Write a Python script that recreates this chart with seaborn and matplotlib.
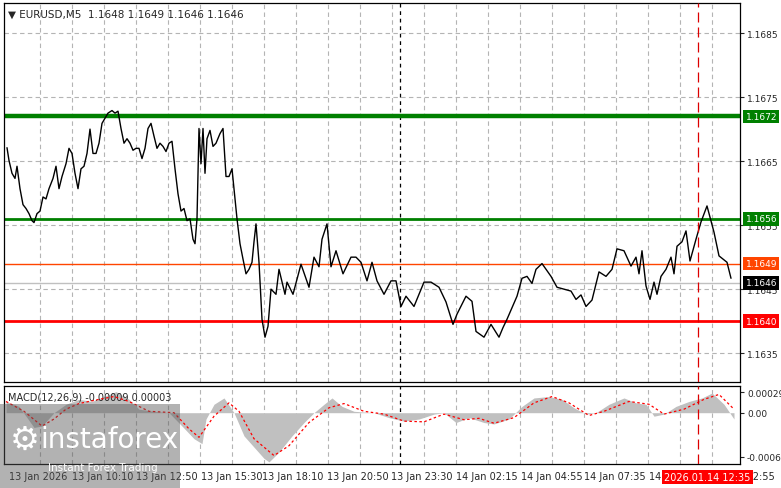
import numpy as np
import pandas as pd
import seaborn as sns
import matplotlib.pyplot as plt
from matplotlib.patches import Rectangle

sns.set_style("white")
plt.rcParams['font.family'] = ['DejaVu Sans']

# price (close), x is the bar number (5 min bars)
bars = [1.5, 2.5, 4, 5.5, 6.5, 8, 9.5, 11, 12.5, 14, 15, 16.5, 18, 19.5, 21, 22.5, 24.5, 26, 27.5, 29,
        31, 32.5, 34, 35.5, 37, 38.5, 40, 41.5, 43, 44.5, 46, 47.5, 49, 50.5, 52, 54, 55.5, 57, 58.5, 60,
        61.5, 63, 64.5, 66, 67.5, 69, 70.5, 72, 73.5, 75, 76.5, 78, 79.5, 81, 82.5, 84, 85.5, 87, 88.5, 90,
        91.5, 93, 94.5, 95.5, 96.5, 97.5, 98.5, 99.5, 100.5, 101.5, 103, 104.5, 106, 108, 109.5, 111, 112.5,
        114, 115, 116.5, 118, 119.5, 121, 122.5, 124, 125, 126, 127.5, 129, 130.5, 132, 133.5, 136, 137.5,
        140.5, 141.5, 144.5, 148.5, 152.5, 155, 157.5, 159, 161.5, 163.5, 166, 169.5, 173.5, 176, 178.5,
        181.5, 184, 186.5, 190, 193.5, 196, 198.5, 201, 205, 210, 213.5, 217.5, 221, 224.5, 226.5, 231, 234,
        236, 240, 243.5, 247.5, 249.5, 251.5, 256.5, 259, 261.5, 264, 266, 269, 273.5, 276.5, 280, 283.5,
        286, 288.5, 291, 294, 297.5, 301, 304, 306.5, 310, 313.5, 316, 317.5, 319, 321, 323, 325, 326.5,
        328.5, 331, 333.5, 335, 336.5, 339, 341, 343, 346, 348.5, 351.5, 355, 357.5, 361.5, 363.5]
close = [1.16671, 1.16651, 1.16631, 1.16623, 1.16642, 1.16607, 1.16582, 1.16576, 1.16568, 1.16557,
         1.16554, 1.16568, 1.16572, 1.16594, 1.16591, 1.16607, 1.16623, 1.16642, 1.16607, 1.16626,
         1.16646, 1.16670, 1.16662, 1.16631, 1.16607, 1.16638, 1.16642, 1.16662, 1.16700, 1.16662,
         1.16662, 1.16678, 1.16709, 1.16717, 1.16725, 1.16729, 1.16725, 1.16728, 1.16701, 1.16678,
         1.16685, 1.16678, 1.16667, 1.16670, 1.16670, 1.16654, 1.16670, 1.16701, 1.16709, 1.16689,
         1.16670, 1.16678, 1.16673, 1.16665, 1.16678, 1.16681, 1.16638, 1.16599, 1.16572, 1.16576,
         1.16557, 1.16560, 1.16528, 1.16521, 1.16560, 1.16701, 1.16646, 1.16701, 1.16631, 1.16685,
         1.16698, 1.16673, 1.16678, 1.16693, 1.16701, 1.16626, 1.16626, 1.16638, 1.16607, 1.16560,
         1.16521, 1.16497, 1.16474, 1.16481, 1.16492, 1.16524, 1.16552, 1.16492, 1.16403, 1.16375,
         1.16392, 1.16450, 1.16442, 1.16481, 1.16442, 1.16461, 1.16442, 1.16489, 1.16453, 1.16500,
         1.16485, 1.16528, 1.16552, 1.16485, 1.16510, 1.16474, 1.16500, 1.16500, 1.16492, 1.16463,
         1.16492, 1.16463, 1.16442, 1.16463, 1.16463, 1.16423, 1.16439, 1.16423, 1.16461, 1.16461,
         1.16453, 1.16430, 1.16395, 1.16411, 1.16439, 1.16431, 1.16384, 1.16375, 1.16395, 1.16375,
         1.16390, 1.16403, 1.16439, 1.16467, 1.16470, 1.16459, 1.16481, 1.16490, 1.16470, 1.16453,
         1.16450, 1.16447, 1.16434, 1.16441, 1.16423, 1.16433, 1.16477, 1.16470, 1.16481, 1.16513,
         1.16510, 1.16486, 1.16500, 1.16474, 1.16510, 1.16455, 1.16434, 1.16461, 1.16442, 1.16470,
         1.16481, 1.16500, 1.16474, 1.16517, 1.16524, 1.16541, 1.16494, 1.16528, 1.16555, 1.16580,
         1.16539, 1.16502, 1.16492, 1.16467]

# MACD histogram and signal line
hist_bars = [1, 7.5, 11, 15, 19, 25, 31, 37.5, 44, 50, 56, 62.5, 67.5, 75, 82.5, 89, 95, 99, 101, 105,
             110, 115, 120, 125, 130, 132.5, 137.5, 144, 150, 155, 160, 164, 169, 175, 185, 192.5, 200,
             207.5, 215, 220, 226, 232.5, 240, 245, 252.5, 259, 265, 272.5, 279, 285, 291, 296, 302.5,
             310, 316, 321, 325, 330, 336, 342.5, 349, 354, 360, 365]
hist_vals = [0.00016, 0.00009, -0.00005, -0.00021, -0.00019, 0.0, 0.00012, 0.00019, 0.00016, 0.00023,
             0.00030, 0.00019, 0.00005, 0.00002, 0.0, -0.00019, -0.00037, -0.00044, -0.00009, 0.00012,
             0.00021, 0.0, -0.00033, -0.00049, -0.00065, -0.00070, -0.00056, -0.00033, -0.00014, 0.0,
             0.00012, 0.00021, 0.00009, 0.00002, 0.0, -0.00007, -0.00012, -0.00009, -0.00002, 0.0,
             -0.00014, -0.00007, -0.00014, -0.00016, -0.00009, 0.00009, 0.00021, 0.00023, 0.00019,
             0.00007, -0.00002, 0.0, 0.00012, 0.00021, 0.00014, 0.00012, -0.00005, -0.00002, 0.00009,
             0.00016, 0.00021, 0.00028, 0.00012, -0.00009]
sig_bars = [1, 10, 19, 25, 31, 37.5, 47.5, 55, 62.5, 72.5, 85, 92.5, 97.5, 105, 112.5, 117.5, 125, 135,
            142.5, 152.5, 162.5, 170, 180, 190, 200, 210, 220, 230, 237.5, 245, 255, 265, 274, 282.5,
            292.5, 300, 312.5, 322.5, 330, 340, 350, 357.5, 365]
sig_vals = [0.00016, 0.00002, -0.00019, -0.00009, 0.00005, 0.00013, 0.00019, 0.00023, 0.00016, 0.00002,
            0.0, -0.00023, -0.00035, -0.00005, 0.00014, 0.00002, -0.00037, -0.00061, -0.00047, -0.00014,
            0.00007, 0.00013, 0.00002, -0.00002, -0.00012, -0.00013, -0.00002, -0.00010, -0.00008,
            -0.00015, -0.00007, 0.00014, 0.00023, 0.00014, -0.00004, 0.00002, 0.00016, 0.00012, -0.00002,
            0.00005, 0.00019, 0.00026, 0.00005]

price_ticks = [1.1635, 1.1645, 1.1655, 1.1665, 1.1675, 1.1685]
time_bars = [2.5, 34, 66, 98.5, 129, 161.5, 193.5, 226, 258.5, 290, 322.5, 354.5]
time_labels = ["13 Jan 2026", "13 Jan 10:10", "13 Jan 12:50", "13 Jan 15:30", "13 Jan 18:10",
               "13 Jan 20:50", "13 Jan 23:30", "14 Jan 02:15", "14 Jan 04:55", "14 Jan 07:35",
               "14 Jan 10:15", "14 Jan 12:55"]
levels = [(1.1672, "#008000", 3.2), (1.1656, "#008000", 2.0), (1.1640, "#ff0000", 2.0),
          (1.1649, "#ff4500", 1.0), (1.1646, "#c0c0c0", 1.0)]
label_boxes = [(1.1672, "#008000", "white"), (1.1656, "#008000", "white"), (1.1649, "#ff4500", "white"),
               (1.1646, "black", "white"), (1.1640, "#ff0000", "white")]
day_break = 198
now_bar = 347

W, H = 781, 489
fig = plt.figure(figsize=(W / 100, H / 100), dpi=100)
ax = fig.add_axes([4 / W, 1 - 383 / H, 736 / W, 379 / H])
ax2 = fig.add_axes([4 / W, 1 - 465 / H, 736 / W, 78 / H], sharex=ax)

df = pd.DataFrame({"bar": bars, "close": close})
sig = pd.DataFrame({"bar": sig_bars, "signal": sig_vals})
grid_x = np.arange(18, 370, 16)

for a in (ax, ax2):
    for x in grid_x:
        a.axvline(x, color="#b4b4b4", lw=0.8, ls=(0, (4, 3)), zorder=0)
    a.axvline(day_break, color="black", lw=0.9, ls=(0, (3, 3)), zorder=1)
    a.axvline(now_bar, color="#dd0000", lw=0.9, ls=(0, (8, 4)), zorder=5)
    for s in a.spines.values():
        s.set_color("black")
        s.set_linewidth(0.9)

for p in price_ticks:
    ax.axhline(p, color="#b4b4b4", lw=0.8, ls=(0, (4, 3)), zorder=0)
for p, c, w in levels:
    ax.axhline(p, color=c, lw=w, zorder=2)

sns.lineplot(data=df, x="bar", y="close", ax=ax, color="black", lw=1.0, zorder=4)
ax.set_xlim(0, 368)
ax.set_ylim(1.16305, 1.16897)
ax.yaxis.tick_right()
ax.set_yticks(price_ticks)
ax.set_yticklabels([f"{p:.4f}" for p in price_ticks], fontsize=6.5)
ax.tick_params(axis="y", length=3, pad=2)
ax.tick_params(axis="x", bottom=False, labelbottom=False)
ax.set_xlabel("")
ax.set_ylabel("")

for p, bg, fg in label_boxes:
    ax.annotate(f"{p:.4f}", xy=(1.0, p), xycoords=("axes fraction", "data"), xytext=(4, 0),
                textcoords="offset points", va="center", ha="left", fontsize=6.5, color=fg,
                bbox=dict(boxstyle="square,pad=0.25", fc=bg, ec="none"), zorder=10,
                annotation_clip=False)

ax.text(0.006, 0.985, "\u25bc EURUSD,M5  1.1648 1.1649 1.1646 1.1646", transform=ax.transAxes,
        fontsize=7.5, va="top", ha="left")

# MACD panel
ax2.fill_between(hist_bars, 0, hist_vals, color="#c0c0c0", lw=0, zorder=2)
sns.lineplot(data=sig, x="bar", y="signal", ax=ax2, color="red", lw=0.9, ls=(0, (2, 2)), zorder=4)
ax2.set_ylim(-0.00073, 0.00038)
ax2.yaxis.tick_right()
ax2.set_yticks([-0.00063, 0.0, 0.00029])
ax2.set_yticklabels(["-0.00063", "0.00", "0.00029"], fontsize=6.5)
ax2.tick_params(axis="y", length=3, pad=2)
ax2.set_xticks(time_bars)
ax2.set_xticklabels(time_labels, fontsize=7, ha="left")
ax2.tick_params(axis="x", length=3, pad=2)
ax2.set_xlabel("")
ax2.set_ylabel("")
ax2.text(0.006, 0.93, "MACD(12,26,9) -0.00009 0.00003", transform=ax2.transAxes, fontsize=7,
         va="top", ha="left")

# current time label
fig.text(664 / W, 1 - 478 / H, "2026.01.14 12:35", fontsize=7, color="white", va="center", ha="left",
         bbox=dict(boxstyle="square,pad=0.25", fc="#ff0000", ec="none"))

# watermark
fig.patches.append(Rectangle((0, 0), 180 / W, 84 / H, transform=fig.transFigure,
                             fc="#555555", alpha=0.45, ec="none", zorder=20))
fig.text(40 / W, 1 - 440 / H, "instaforex", fontsize=20, color="white", va="center", ha="left",
         zorder=21)
fig.text(48 / W, 1 - 468 / H, "Instant Forex Trading", fontsize=7.5, color="white", va="center",
         ha="left", zorder=21)
fig.text(10 / W, 1 - 440 / H, "\u2699", fontsize=24, color="white", va="center", ha="left", zorder=21)

fig.savefig("out.png", dpi=100)
